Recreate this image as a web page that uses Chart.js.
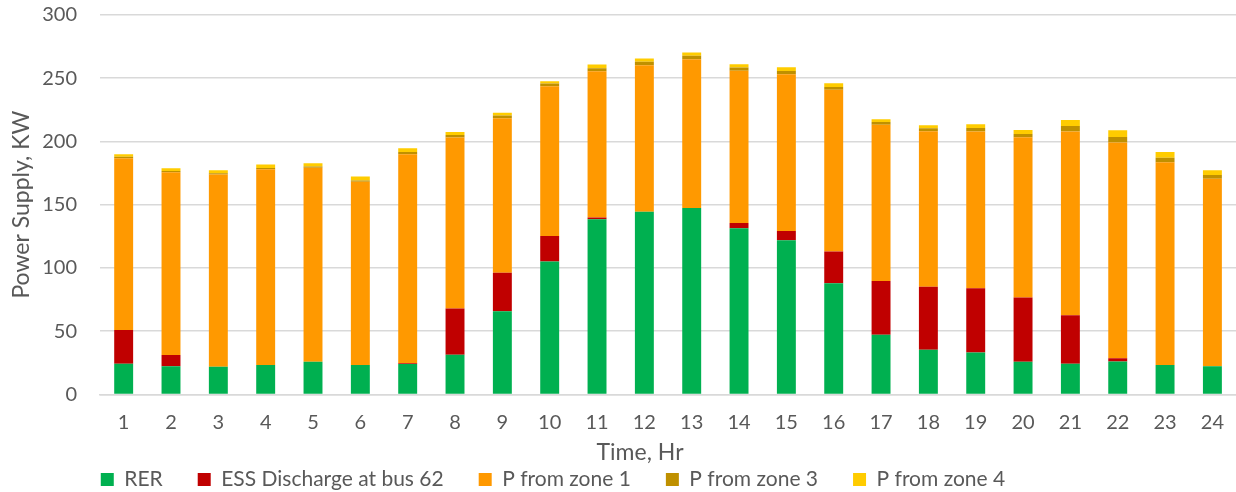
<!DOCTYPE html>
<html>
<head>
<meta charset="utf-8">
<script src="https://cdn.jsdelivr.net/npm/chart.js@4.4.0/dist/chart.umd.min.js"></script>
<style>
  html, body { margin: 0; padding: 0; background: #fff; overflow: hidden; }
  #wrap { width: 1240px; height: 492px; }
</style>
</head>
<body>
<div id="wrap"><canvas id="supplyChart" width="1240" height="492"></canvas></div>
<script>
// hours on the x axis
const hours = ["1","2","3","4","5","6","7","8","9","10","11","12","13","14","15","16","17","18","19","20","21","22","23","24"];

// stacked supply components (KW)
const rer = [24.3, 22.2, 21.9, 23.2, 25.8, 23.2, 24.0, 31.4, 65.7, 105.0, 138.4, 144.5, 147.4, 131.3, 121.8, 87.8, 47.2, 35.3, 33.2, 25.8, 24.3, 26.1, 23.2, 22.2];
const essDischarge = [26.6, 8.9, 0, 0, 0, 0, 0.6, 36.6, 30.5, 20.3, 1.4, 0, 0, 4.2, 7.4, 25.1, 42.5, 49.9, 50.7, 50.9, 38.2, 2.4, 0, 0];
const zone1 = [135.8, 144.5, 151.9, 154.8, 153.5, 145.0, 165.3, 135.1, 122.2, 118.4, 115.7, 115.8, 117.6, 120.5, 124.0, 127.9, 123.6, 122.9, 123.9, 126.6, 145.3, 170.6, 160.3, 148.4];
const zone3 = [1.3, 1.1, 1.0, 1.0, 1.0, 1.0, 1.8, 2.1, 2.1, 2.1, 2.4, 2.7, 2.7, 2.4, 2.6, 2.3, 2.1, 2.3, 2.9, 2.7, 4.5, 4.5, 3.7, 2.9];
const zone4 = [1.9, 2.1, 2.4, 2.7, 2.5, 3.0, 2.9, 2.3, 2.3, 1.8, 2.9, 2.6, 2.6, 2.6, 2.9, 2.9, 2.2, 2.4, 2.9, 3.1, 4.7, 5.3, 4.5, 3.7];

const yTicks = [0, 50, 100, 150, 200, 250, 300];

const textColor = "#595959";
const gridColor = "#d9d9d9";
const baseFont = "Lato, 'Open Sans', sans-serif";

function makeSet(label, data, color) {
    return {
        label: label,
        data: data,
        backgroundColor: color,
        borderWidth: 0,
        barPercentage: 0.4,
        categoryPercentage: 1.0,
        stack: "supply"
    };
}

// the original figure centres the legend and x title a bit left of the plot
const offsetText = {
    id: "offsetText",
    afterLayout(chart) {
        if (chart.legend) {
            chart.legend.left -= 67;
            chart.legend.right -= 67;
        }
        const xs = chart.scales.x;
        if (xs && !xs._titleShifted) {
            const drawTitle = xs.drawTitle;
            xs.drawTitle = function () {
                const l = this.left;
                this.left -= 56;
                drawTitle.call(this);
                this.left = l;
            };
            xs._titleShifted = true;
        }
    }
};

const ctx = document.getElementById("supplyChart").getContext("2d");
new Chart(ctx, {
    type: "bar",
    data: {
        labels: hours,
        datasets: [
            makeSet("RER", rer, "#00b050"),
            makeSet("ESS Discharge at bus 62", essDischarge, "#c00000"),
            makeSet("P from zone 1", zone1, "#ff9900"),
            makeSet("P from zone 3", zone3, "#bf9000"),
            makeSet("P from zone 4", zone4, "#ffcc00")
        ]
    },
    options: {
        responsive: false,
        animation: false,
        layout: { padding: { left: 0, right: 0, top: 0, bottom: -8 } },
        plugins: {
            tooltip: { enabled: false },
            legend: {
                position: "bottom",
                labels: {
                    color: textColor,
                    font: { family: baseFont, size: 21 },
                    boxWidth: 13,
                    boxHeight: 13,
                    padding: 35
                }
            }
        },
        scales: {
            x: {
                stacked: true,
                grid: { display: false, drawTicks: false },
                border: { display: true, color: gridColor, width: 1.5 },
                ticks: {
                    color: textColor,
                    font: { family: baseFont, size: 20 },
                    padding: 16,
                    maxRotation: 0
                },
                title: {
                    display: true,
                    text: "Time, Hr",
                    color: textColor,
                    font: { family: baseFont, size: 23 },
                    padding: { top: -12, bottom: -32 }
                }
            },
            y: {
                stacked: true,
                min: 0,
                max: 300,
                afterBuildTicks(scale) {
                    scale.ticks = yTicks.map(v => ({ value: v }));
                },
                afterFit(scale) {
                    scale.width = 100;
                    scale.paddingTop = 15;
                    scale.paddingBottom = 0;
                },
                grid: { color: gridColor, lineWidth: 1.5, drawTicks: false },
                border: { display: false },
                ticks: {
                    color: textColor,
                    font: { family: baseFont, size: 20 },
                    padding: 23
                },
                title: {
                    display: true,
                    text: "Power Supply, KW",
                    color: textColor,
                    font: { family: baseFont, size: 23 },
                    padding: { top: 8, bottom: 0 }
                }
            }
        }
    },
    plugins: [offsetText]
});
</script>
</body>
</html>
